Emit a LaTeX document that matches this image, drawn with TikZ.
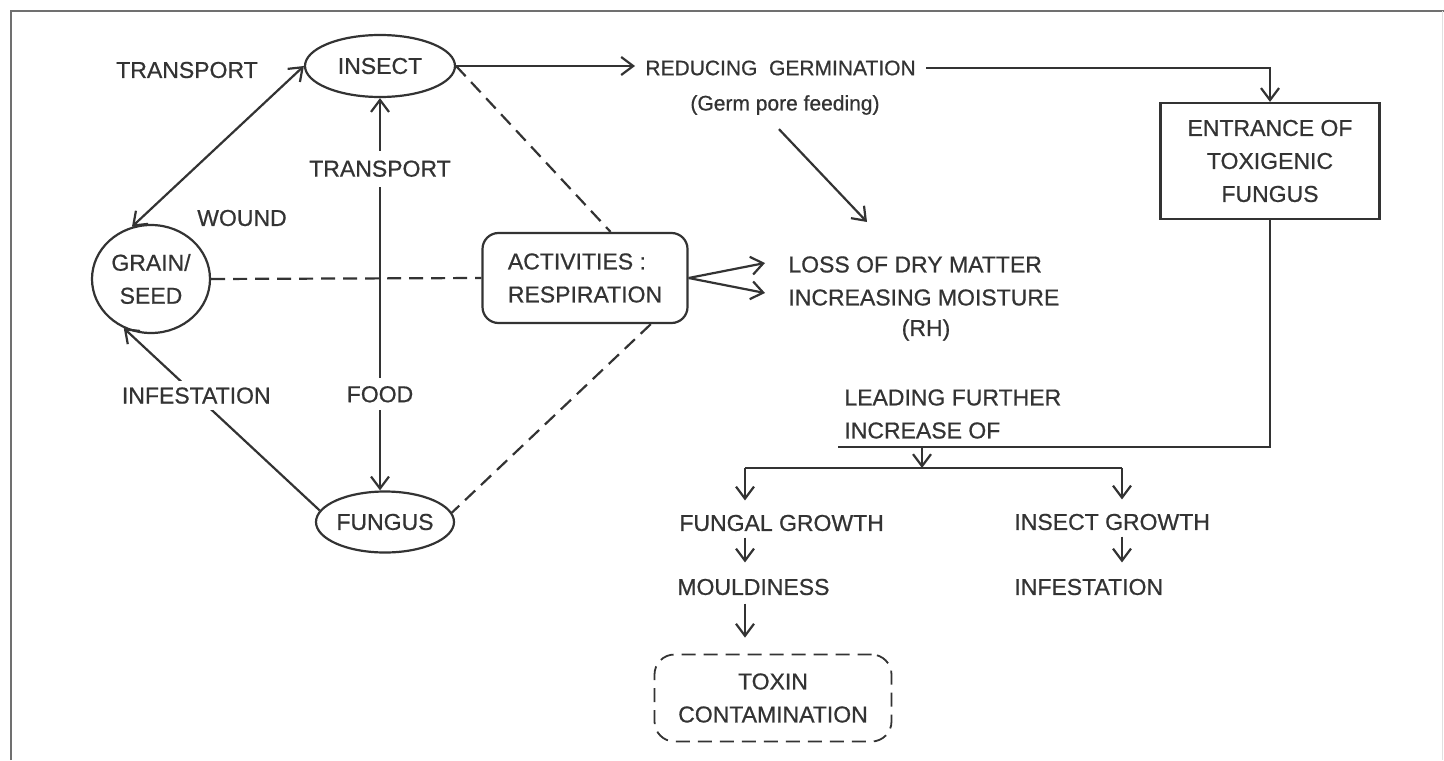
\documentclass[tikz,border=0pt]{standalone}
\usepackage{fontspec}
\setmainfont{Liberation Sans}[FakeBold=0.7]
\usetikzlibrary{arrows.meta,shapes.geometric}
\definecolor{ink}{HTML}{333333}

\begin{document}
\begin{tikzpicture}[x=0.5pt,y=-0.5pt,color=ink,
	font=\fontsize{11.5}{16.5}\selectfont,
	dashline/.style={dash pattern=on 7pt off 4pt,line width=0.9pt},
	small/.style={font=\fontsize{10.5}{14}\selectfont}]

\useasboundingbox (0,0) rectangle (1444,760);
\draw[ink!70,line width=0.6pt] (11,760) -- (11,11) -- (1444,11);
\draw[ink!15,line width=0.4pt] (1442,11) -- (1442,760);

\begin{scope}[every node/.style={ellipse,draw,line width=1.1pt,inner sep=0pt,align=center}]
	\node[minimum width=75pt,minimum height=31pt] (insect) at (380,66) {INSECT};
	\node[minimum width=59pt,minimum height=54pt] (grain) at (151,279) {GRAIN/\\SEED};
	\node[minimum width=69pt,minimum height=30.5pt] (fungus) at (385,522) {FUNGUS};
\end{scope}

\begin{scope}[every node/.style={draw,line width=1.1pt,inner sep=0pt,align=center}]
	\node[rounded corners=8pt,align=left,minimum width=102.5pt,minimum height=45pt] (activities) at (585,278) {ACTIVITIES :\\RESPIRATION};
	\node[minimum width=109.5pt,minimum height=58pt] (entrance) at (1270,161) {ENTRANCE OF\\TOXIGENIC\\FUNGUS};
	\node[dashline,rounded corners=10pt,minimum width=118.5pt,minimum height=43.5pt] (toxin) at (773,698) {TOXIN\\CONTAMINATION};
\end{scope}

\begin{scope}[every node/.style={inner sep=1pt}]
	\node (transport) at (187,70) {TRANSPORT};
	\node (wound) at (242,218) {WOUND};
	\node[small,anchor=west] (reducing) at (643,68) {REDUCING\ \ GERMINATION};
	\node[small] (germ) at (785,105) {(Germ pore feeding)};
	\node[anchor=west,align=left,inner sep=0pt] (loss) at (788,281) {LOSS OF DRY MATTER\\INCREASING MOISTURE};
	\node (rh) at (926,330) {(RH)};
	\node[anchor=west,align=left] (leading) at (842,414) {LEADING FURTHER\\INCREASE OF};
	\node[anchor=west] (fgrowth) at (677,523) {FUNGAL GROWTH};
	\node[anchor=west] (mould) at (675,587) {MOULDINESS};
	\node[anchor=west] (igrowth) at (1012,522) {INSECT GROWTH};
	\node[anchor=west] (infest) at (1012,587) {INFESTATION};
\end{scope}

\coordinate (germtip) at (867,222);
\coordinate (barL) at (838,447);
\coordinate (split) at (922,447);
\coordinate (fork) at (922,468);
\coordinate (forkL) at (745,468);
\coordinate (forkR) at (1122,468);

\begin{scope}[>={Straight Barb[length=6pt,width=9pt]},
every node/.style={fill=white,inner sep=4pt},
every edge/.style={draw,line width=1.1pt}]
	\path [<->] (grain.110) edge (insect.west);
	\path [->] (fungus.170) edge node[pos=0.63,inner sep=3pt] (infestlabel) {INFESTATION} (grain.241);
	\path [<->] (insect.south) edge node[pos=0.18,inner sep=5pt] (transportlabel) {TRANSPORT}
		node[pos=0.755] (foodlabel) {FOOD} (insect.south |- fungus.north);
	\path [dashline] (grain.east) edge (activities.west);
	\path [dashline] (insect.east) edge (activities.61);
	\path [dashline] (activities.325) edge (fungus.8);
	\path [->] (insect.east) edge[shorten >=4pt] (insect.east -| reducing.west);
	\path [->] ([xshift=-3pt,yshift=-6pt]germ.south) edge (germtip);
	\path [->] (activities.east) edge ([yshift=9pt,xshift=-11.5pt]loss.west);
	\path [->] (activities.east) edge ([yshift=-6pt,xshift=-11.5pt]loss.west);
	\draw [->,line width=1.1pt,shorten <=4pt] (reducing.east) -| (entrance.north);
	\draw [line width=1.1pt] (entrance.south) |- (barL);
	\path [->] (split) edge (fork);
	\draw [line width=1.1pt] (forkL) -- (forkR);
	\path [->] (forkL) edge[shorten >=6pt] (forkL |- fgrowth.north);
	\path [->] (forkR) edge[shorten >=6pt] (forkR |- igrowth.north);
	\path [->] (forkL |- fgrowth.south) edge[shorten <=2pt,shorten >=7pt] (forkL |- mould.north);
	\path [->] (forkR |- igrowth.south) edge[shorten <=2pt,shorten >=7pt] (forkR |- infest.north);
	\path [->] (forkL |- mould.south) edge[shorten <=3pt,shorten >=8pt] (forkL |- toxin.north);
\end{scope}

\end{tikzpicture}
\end{document}
